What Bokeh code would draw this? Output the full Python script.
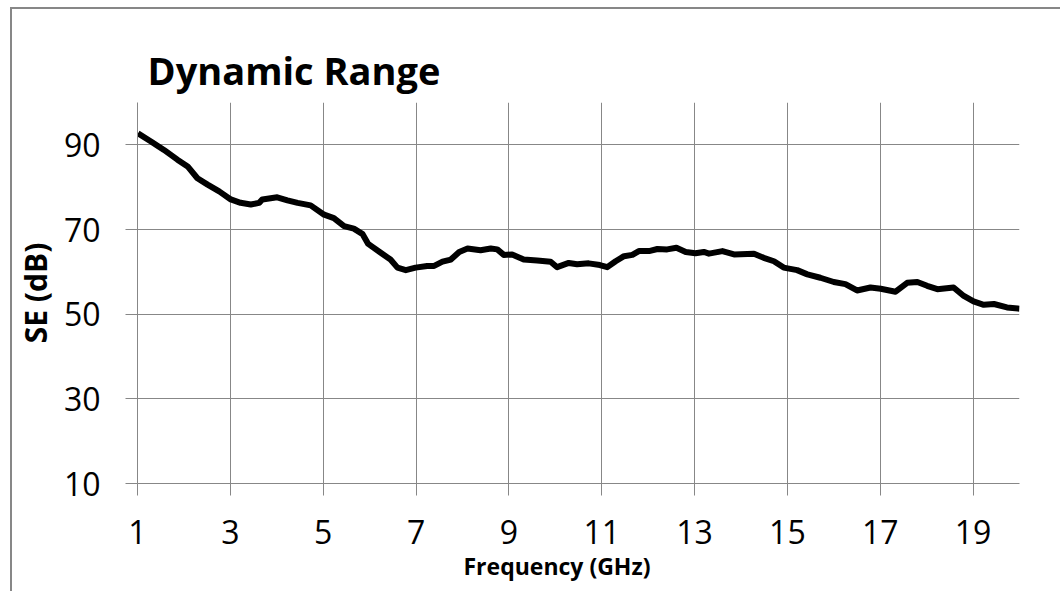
from bokeh.plotting import figure
from bokeh.models import Range1d, FixedTicker, Title, InlineStyleSheet
from bokeh.embed import file_html
from bokeh.resources import INLINE

# Shielding-effectiveness dynamic range vs frequency
freq_ghz = [1.01, 1.29, 1.57, 1.86, 2.08, 2.29, 2.51, 2.76, 3.01, 3.22, 3.44, 3.62,
            3.69, 4.01, 4.23, 4.45, 4.73, 5.02, 5.23, 5.45, 5.66, 5.85, 5.97, 6.24,
            6.45, 6.60, 6.78, 6.99, 7.24, 7.39, 7.57, 7.75, 7.93, 8.11, 8.39, 8.61,
            8.75, 8.89, 9.07, 9.32, 9.61, 9.90, 10.04, 10.29, 10.47, 10.72, 10.96,
            11.12, 11.30, 11.48, 11.66, 11.80, 12.02, 12.20, 12.41, 12.61, 12.81,
            13.02, 13.20, 13.31, 13.60, 13.85, 14.28, 14.49, 14.71, 14.92, 15.21,
            15.43, 15.71, 16.00, 16.25, 16.50, 16.79, 17.01, 17.33, 17.58, 17.80,
            18.01, 18.23, 18.58, 18.80, 19.01, 19.23, 19.45, 19.73, 20.00]
se_db = [92.7, 90.8, 88.8, 86.5, 84.9, 82.1, 80.6, 79.0, 77.1, 76.3, 75.9, 76.3,
         77.1, 77.6, 76.9, 76.3, 75.7, 73.5, 72.7, 70.8, 70.2, 68.9, 66.6, 64.5,
         62.9, 61.0, 60.4, 61.0, 61.4, 61.4, 62.4, 62.9, 64.7, 65.5, 65.1, 65.5,
         65.3, 64.0, 64.1, 62.9, 62.7, 62.4, 61.1, 62.1, 61.8, 62.0, 61.6,
         61.1, 62.5, 63.7, 64.0, 64.9, 64.9, 65.4, 65.3, 65.7, 64.7,
         64.4, 64.7, 64.3, 64.9, 64.1, 64.3, 63.3, 62.5, 61.0, 60.4,
         59.4, 58.6, 57.6, 57.1, 55.6, 56.3, 56.0, 55.3, 57.4, 57.6,
         56.7, 55.9, 56.3, 54.3, 53.0, 52.2, 52.4, 51.6, 51.3]

x_ticks = [1, 3, 5, 7, 9, 11, 13, 15, 17, 19]
y_ticks = [10, 30, 50, 70, 90]

GRID = "#878787"
FONT = "Open Sans"

# chart-area border (left and top edges) painted behind the transparent canvas;
# full-size gradient layers: white masks over the corner, then the two rules
border_sheet = InlineStyleSheet(css=f"""
:host {{
  background:
    linear-gradient(to right, white 10px, transparent 10px),
    linear-gradient(to bottom, white 7px, transparent 7px),
    linear-gradient(to bottom, transparent 7px, {GRID} 7px, {GRID} 9px, transparent 9px),
    linear-gradient(to right, transparent 10px, {GRID} 10px, {GRID} 12px, transparent 12px),
    white;
}}
""")

p = figure(width=1060, height=591, output_backend="svg", toolbar_location=None,
           x_range=Range1d(1, 20), y_range=Range1d(10, 100),
           min_border_left=137, min_border_right=41,
           min_border_top=102, min_border_bottom=108,
           stylesheets=[border_sheet])

p.outline_line_color = None
p.background_fill_color = "white"
p.border_fill_color = None

p.title.text = "Dynamic Range"
p.title.text_font = FONT
p.title.text_font_style = "bold"
p.title.text_font_size = "38px"
p.title.text_color = "black"
p.title.align = "left"
p.title.offset = 10
p.title.standoff = 14

p.xaxis.ticker = FixedTicker(ticks=x_ticks)
p.yaxis.ticker = FixedTicker(ticks=y_ticks)
p.xgrid.ticker = FixedTicker(ticks=x_ticks)
p.ygrid.ticker = FixedTicker(ticks=y_ticks)

for ax in (p.xaxis, p.yaxis):
    ax.axis_line_color = GRID
    ax.axis_line_width = 1
    ax.major_tick_line_color = GRID
    ax.major_tick_in = 0
    ax.major_tick_out = 12
    ax.minor_tick_line_color = None
    ax.major_label_text_font = FONT
    ax.major_label_text_font_size = "32px"
    ax.major_label_text_color = "black"

p.xaxis.major_label_standoff = 24
p.yaxis.major_label_standoff = 25

p.yaxis.axis_label = "SE (dB)"
p.yaxis.axis_label_text_font = FONT
p.yaxis.axis_label_text_font_style = "bold"
p.yaxis.axis_label_text_font_size = "30px"
p.yaxis.axis_label_text_color = "black"
p.yaxis.axis_label_standoff = 5

p.add_layout(Title(text="Frequency (GHz)", align="left", offset=326,
                   text_font=FONT, text_font_style="bold", text_color="black",
                   text_font_size="23px", standoff=3), "below")

for g in (p.xgrid, p.ygrid):
    g.grid_line_color = GRID
    g.grid_line_width = 1

p.line(freq_ghz, se_db, line_color="black", line_width=6, line_join="round")

open("out.html", "w").write(file_html(p, INLINE))
